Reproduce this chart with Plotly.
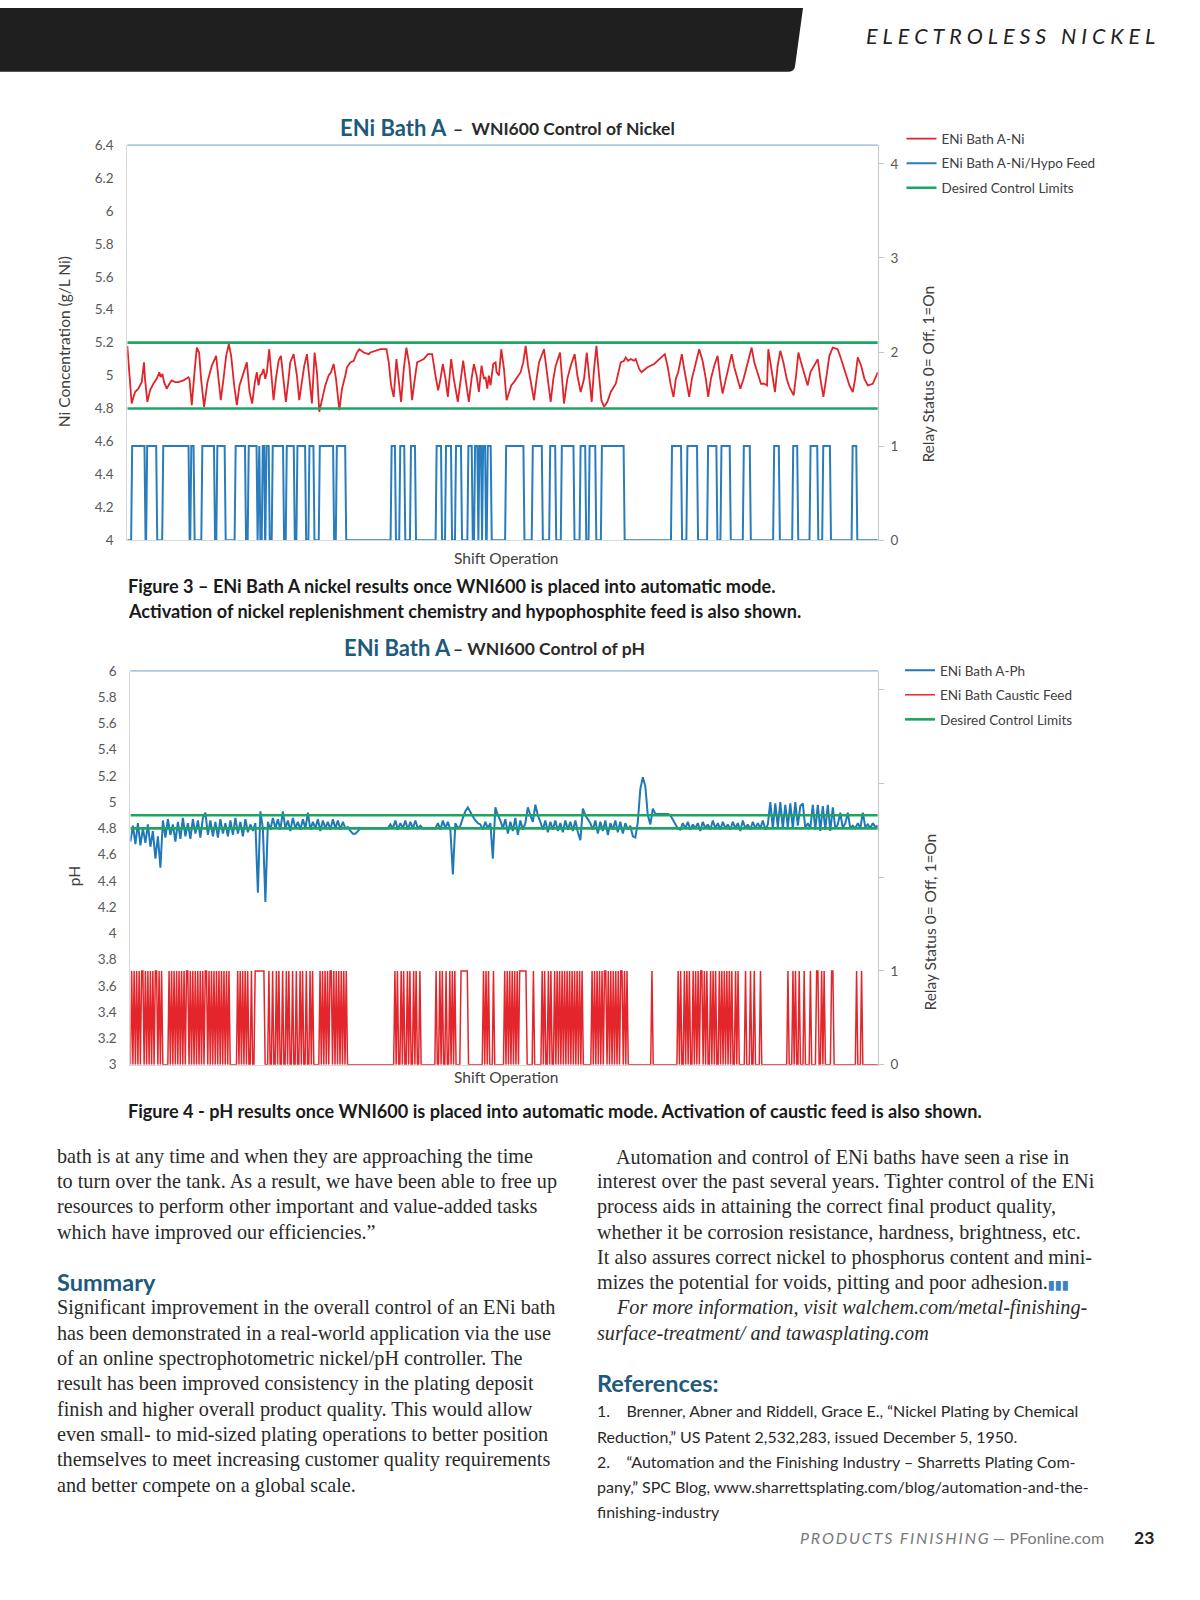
import numpy as np
import plotly.graph_objects as go

W, H = 1200, 1600
SANS = "Lato"
SERIF = "Liberation Serif"
TEAL = "#1d5a7c"
TXT = "#2a2a2a"
GREY = "#595959"

# ---------------- Figure 3 data (x = % of shift) ----------------
ni_x = [0.00, 0.58, 1.03, 1.47, 1.92, 2.23, 2.36, 2.67, 3.03, 3.47, 3.92, 4.27, 4.45, 4.68, 4.90, 5.25, 5.61, 5.92, 6.37, 6.81,
        7.48, 8.14, 8.28, 8.59, 9.03, 9.26, 9.57, 9.83, 10.23, 10.68, 11.26, 11.84, 12.15, 12.46, 12.82, 13.17, 13.53, 13.84, 14.24, 14.60,
        14.95, 15.49, 15.93, 16.29, 16.64, 17.00, 17.26, 17.49, 17.71, 17.93, 18.15, 18.38, 18.60, 18.91, 19.18, 19.49, 19.80, 20.16, 20.47, 20.82,
        21.13, 21.49, 21.71, 22.16, 22.60, 22.91, 23.27, 23.58, 23.94, 24.25, 24.60, 24.96, 25.27, 25.58, 25.94, 26.38, 26.83, 27.14, 27.49, 27.81,
        28.25, 28.61, 29.05, 29.27, 29.72, 30.17, 30.61, 30.92, 31.50, 32.17,
        32.39, 33.06, 33.72, 34.53, 34.84, 35.15, 35.50, 35.86, 36.17, 36.48, 36.84, 37.19, 37.59, 37.95, 38.31, 38.62, 39.06, 39.51, 40.04, 40.62,
        41.06, 41.42, 41.73, 42.04, 42.40, 42.71, 43.15, 43.51, 44.04, 44.40, 44.76, 45.07, 45.51, 45.87, 46.18, 46.54, 46.85, 47.20, 47.52, 47.74,
        47.96, 48.18, 48.40, 48.76, 49.07, 49.21, 49.52, 49.83, 50.19, 50.54, 50.85, 51.16, 51.52, 51.83, 52.05, 52.41, 52.76, 53.08, 53.39, 53.74,
        54.19, 54.54, 54.86, 55.52, 55.97, 56.41, 56.77, 57.08, 57.66, 57.97, 58.19, 58.63, 59.08, 59.61, 59.97, 60.41, 60.86, 61.22, 61.53, 61.88,
        62.19, 62.51, 62.86, 63.17, 63.53, 63.97, 64.42, 65.09,
        65.75, 66.19, 66.42, 66.73, 67.08, 67.53, 67.75, 68.20, 68.51, 69.31, 70.20, 71.09, 71.62, 71.98, 72.42, 72.78, 73.09, 73.40, 73.89, 74.20,
        74.56, 74.87, 75.23, 75.76, 76.20, 76.65, 77.09, 77.40, 77.76, 78.21, 78.65, 79.01, 79.32, 79.76, 80.21, 80.52, 80.88, 81.32, 81.68, 82.12,
        82.65, 83.19, 83.54, 83.99, 84.43, 84.88, 85.24, 85.41, 85.68, 85.99, 86.30, 86.66, 87.01, 87.42, 87.86, 88.22, 88.79, 89.11, 89.42, 89.77,
        90.22, 90.66, 91.02, 91.46, 92.00, 92.35, 92.75, 93.11, 93.55, 94.00, 94.66, 95.11, 95.64, 96.22, 96.67, 96.98, 97.33, 97.78, 98.22, 98.67,
        99.33, 99.65, 100.0]
ni_val = [5.18, 4.83, 4.90, 4.92, 4.96, 5.08, 4.98, 4.84, 4.91, 4.95, 4.98, 5.02, 4.99, 5.01, 4.96, 4.92, 4.95, 4.97, 4.96, 4.96,
          4.97, 4.99, 4.98, 4.82, 5.06, 5.17, 5.14, 4.98, 4.81, 4.96, 5.06, 5.12, 4.98, 4.85, 4.98, 5.12, 5.19, 5.12, 4.94, 4.82,
          4.94, 5.02, 5.08, 4.90, 4.83, 4.96, 5.02, 4.94, 5.00, 5.01, 5.04, 4.98, 5.02, 5.16, 5.02, 4.85, 4.98, 5.09, 5.12, 4.96,
          4.84, 4.98, 5.08, 5.13, 5.00, 4.85, 4.98, 5.06, 5.13, 5.00, 4.83, 5.14, 5.02, 4.78, 4.85, 4.94, 5.00, 5.02, 5.07, 4.98,
          4.79, 4.92, 5.00, 5.05, 5.08, 5.09, 5.14, 5.16, 5.14, 5.13,
          5.14, 5.15, 5.16, 5.16, 5.08, 4.94, 4.87, 5.10, 4.98, 4.84, 5.04, 5.17, 5.06, 4.85, 4.98, 5.08, 5.09, 5.10, 5.13, 5.13,
          5.00, 4.91, 4.98, 5.07, 4.98, 4.87, 5.10, 4.98, 4.84, 4.98, 5.09, 4.98, 4.84, 4.98, 5.07, 5.00, 4.90, 5.06, 4.98, 4.99,
          4.92, 5.00, 4.94, 5.07, 5.08, 5.02, 5.00, 5.16, 5.04, 4.85, 4.89, 4.94, 4.96, 4.98, 4.99, 5.02, 5.08, 5.18, 5.06, 4.96,
          4.85, 4.98, 5.08, 5.16, 5.00, 4.84, 4.98, 5.06, 5.14, 4.98, 4.83, 4.98, 5.06, 5.13, 5.00, 4.90, 4.98, 5.14, 4.98, 4.84,
          5.04, 5.18, 5.00, 4.85, 4.81, 4.84, 4.90, 4.95,
          5.08, 5.09, 5.11, 5.09, 5.10, 5.09, 5.10, 5.04, 5.02, 5.05, 5.07, 5.11, 5.13, 5.06, 4.94, 4.87, 4.98, 5.02, 5.13, 5.04,
          4.94, 4.87, 4.98, 5.08, 5.16, 5.09, 4.98, 4.87, 4.98, 5.06, 5.12, 4.98, 4.89, 4.98, 5.06, 5.13, 5.05, 4.98, 4.92, 4.98,
          5.08, 5.17, 5.08, 5.02, 4.95, 4.95, 4.94, 5.16, 5.08, 4.98, 4.90, 5.06, 5.15, 5.08, 4.98, 4.93, 4.88, 5.00, 5.14, 5.08,
          5.00, 4.94, 5.02, 5.06, 5.10, 4.98, 4.87, 4.98, 5.12, 5.17, 5.16, 5.10, 5.02, 4.94, 4.90, 4.98, 5.11, 5.06, 4.98, 4.94,
          4.95, 4.98, 5.02]
# Ni/Hypo feed relay ON periods (start %, end %)
hypo_on = [(0.58, 2.36), (2.58, 3.92), (4.72, 8.23), (8.46, 8.90), (9.93, 11.62), (11.93, 13.04), (14.37, 15.75),
           (16.11, 17.29), (17.44, 17.66), (17.98, 18.29), (18.47, 18.91), (19.31, 20.82), (21.18, 22.25), (22.60, 23.76),
           (24.20, 24.87), (25.58, 27.49), (27.85, 29.10), (35.15, 35.73), (36.30, 36.97), (37.73, 38.40), (41.15, 41.87),
           (42.40, 43.20), (43.73, 44.53), (45.38, 45.96), (46.27, 46.71), (46.85, 47.20), (47.34, 47.74), (47.96, 48.49),
           (50.41, 52.85), (53.96, 55.30), (56.28, 57.08), (57.83, 59.52), (60.33, 61.08), (61.53, 62.42), (63.17, 66.20),
           (72.51, 73.85), (74.56, 75.98), (77.32, 78.56), (79.10, 80.34), (82.08, 83.01), (86.12, 86.88), (88.66, 89.33),
           (90.97, 92.00), (92.66, 93.69), (96.58, 97.20)]
ni_limits = [4.8, 5.2]
ni_ticks = [4.0, 4.2, 4.4, 4.6, 4.8, 5.0, 5.2, 5.4, 5.6, 5.8, 6.0, 6.2, 6.4]
ni_ticktext = ["4", "4.2", "4.4", "4.6", "4.8", "5", "5.2", "5.4", "5.6", "5.8", "6", "6.2", "6.4"]
relay_ticks = [0, 1, 2, 3, 4]
relay1_ticktext = ["0", "1", "2", "3", "4"]
relay2_ticktext = ["0", "1", "", "", ""]

# ---------------- Figure 4 data ----------------
ph_val = [4.70, 4.82, 4.68, 4.84, 4.67, 4.80, 4.69, 4.83, 4.66, 4.78,
          4.57, 4.74, 4.50, 4.86, 4.73, 4.87, 4.75, 4.83, 4.70, 4.85,
          4.72, 4.88, 4.74, 4.84, 4.72, 4.87, 4.76, 4.86, 4.73, 4.88,
          4.92, 4.75, 4.86, 4.74, 4.85, 4.73, 4.87, 4.76, 4.84, 4.74,
          4.86, 4.75, 4.88, 4.76, 4.85, 4.74, 4.87, 4.77, 4.83, 4.78,
          4.84, 4.31, 4.93, 4.80, 4.24, 4.85, 4.79, 4.88, 4.80, 4.87,
          4.79, 4.93, 4.80, 4.86, 4.78, 4.88, 4.80, 4.85, 4.79, 4.87,
          4.80, 4.92, 4.79, 4.85, 4.80, 4.87, 4.78, 4.86, 4.80, 4.85,
          4.79, 4.87, 4.80, 4.86, 4.79, 4.85, 4.80, 4.81, 4.78, 4.76,
          4.76, 4.78, 4.80, 4.80, 4.80, 4.80, 4.80, 4.80, 4.80, 4.80,
          4.80, 4.80, 4.80, 4.80, 4.83, 4.80, 4.86, 4.79, 4.84, 4.80,
          4.86, 4.79, 4.85, 4.80, 4.86, 4.80, 4.82, 4.80, 4.80, 4.80,
          4.80, 4.80, 4.80, 4.84, 4.79, 4.86, 4.80, 4.85, 4.79, 4.45,
          4.84, 4.80, 4.82, 4.88, 4.93, 4.96, 4.92, 4.89, 4.86, 4.84,
          4.83, 4.79, 4.85, 4.80, 4.84, 4.57, 4.96, 4.90, 4.86, 4.80,
          4.87, 4.76, 4.85, 4.78, 4.88, 4.75, 4.86, 4.79, 4.84, 4.96,
          4.90, 4.85, 4.98, 4.90, 4.85, 4.79, 4.86, 4.77, 4.85, 4.79,
          4.86, 4.78, 4.84, 4.77, 4.86, 4.79, 4.85, 4.78, 4.86, 4.77,
          4.71, 4.95, 4.90, 4.87, 4.84, 4.79, 4.86, 4.76, 4.85, 4.78,
          4.86, 4.75, 4.84, 4.79, 4.86, 4.77, 4.85, 4.76, 4.84, 4.79,
          4.82, 4.74, 4.73, 4.85, 5.10, 5.19, 5.12, 4.90, 4.83, 4.95,
          4.91, 4.91, 4.91, 4.91, 4.91, 4.91, 4.90, 4.87, 4.83, 4.80,
          4.79, 4.84, 4.80, 4.85, 4.79, 4.83, 4.80, 4.84, 4.78, 4.85,
          4.80, 4.83, 4.79, 4.86, 4.80, 4.84, 4.79, 4.85, 4.80, 4.83,
          4.79, 4.85, 4.80, 4.84, 4.78, 4.86, 4.80, 4.83, 4.79, 4.85,
          4.80, 4.84, 4.80, 4.86, 4.79, 4.83, 5.00, 4.80, 4.99, 4.81,
          5.00, 4.80, 4.98, 4.81, 4.99, 4.80, 5.00, 4.82, 4.97, 4.99,
          4.80, 4.84, 4.80, 4.98, 4.79, 4.98, 4.78, 4.97, 4.79, 4.98,
          4.78, 4.96, 4.80, 4.83, 4.92, 4.80, 4.84, 4.92, 4.80, 4.82,
          4.80, 4.84, 4.80, 4.92, 4.81, 4.83, 4.80, 4.84, 4.81, 4.82]
# Caustic feed relay: 600 samples over the shift, OFF except in these blocks (start sample, states)
N_CAUSTIC = 600
caustic_blocks = [
    (1, "1010101011010101010110101"),
    (31, "10101010101010110101010101010110101010101010101010"),
    (86, "10101010100100111111110"),
    (111, "1001001010010010100100100101001001010"),
    (152, "1010101011010101010101"),
    (212, "101001010010100101001"),
    (245, "100101001001010100001111110"),
    (283, "101010001"),
    (300, "1010101010101111110"),
    (323, "1"),
    (330, "101001010010101010101010101010101"),
    (370, "101010101011010101010101101010"),
    (418, "1"),
    (439, "1010010101001010101101010010101001010101010100101"),
    (493, "1000100100001"),
    (527, "10001010010001"),
    (545, "1000011001010000011"),
    (582, "10001"),
]
ph_limits = [4.8, 4.9]
ph_ticks = [3.0, 3.2, 3.4, 3.6, 3.8, 4.0, 4.2, 4.4, 4.6, 4.8, 5.0, 5.2, 5.4, 5.6, 5.8, 6.0]
ph_ticktext = ["3", "3.2", "3.4", "3.6", "3.8", "4", "4.2", "4.4", "4.6", "4.8", "5", "5.2", "5.4", "5.6", "5.8", "6"]

# ---------------- build series ----------------
hx, hy = [0.0], [0.0]
for a, b in hypo_on:
    hx += [a - 0.07, a + 0.07, b - 0.07, b + 0.07]
    hy += [0, 1, 1, 0]
hx.append(100.0)
hy.append(0)

caustic = np.zeros(N_CAUSTIC)
for start, states in caustic_blocks:
    for k, ch in enumerate(states):
        if start + k < N_CAUSTIC:
            caustic[start + k] = int(ch)
caustic_x = np.arange(N_CAUSTIC) * 100.0 / (N_CAUSTIC - 1)
ph_x = np.arange(len(ph_val)) * 100.0 / (len(ph_val) - 1)


def px(x):
    return x / W


def py(y):
    return 1 - y / H


fig = go.Figure()
# Figure 3 traces
fig.add_trace(go.Scatter(x=ni_x, y=ni_val, xaxis="x", yaxis="y", mode="lines", name="ENi Bath A-Ni",
                         line=dict(color="#e0242a", width=1.8), legend="legend", legendgroup="a1"))
fig.add_trace(go.Scatter(x=hx, y=hy, xaxis="x", yaxis="y2", mode="lines", name="ENi Bath A-Ni/Hypo Feed",
                         line=dict(color="#2a7dbd", width=2), legend="legend", legendgroup="a2"))
fig.add_trace(go.Scatter(x=[0, 100, None, 0, 100], y=[ni_limits[1], ni_limits[1], None, ni_limits[0], ni_limits[0]],
                         xaxis="x", yaxis="y", mode="lines", name="Desired Control Limits",
                         line=dict(color="#1fa463", width=2.6), legend="legend", legendgroup="a3"))
# Figure 4 traces
fig.add_trace(go.Scatter(x=ph_x, y=ph_val, xaxis="x2", yaxis="y3", mode="lines", name="ENi Bath A-Ph",
                         line=dict(color="#1f78b8", width=2), legend="legend2", legendgroup="b1"))
fig.add_trace(go.Scatter(x=caustic_x, y=caustic, xaxis="x2", yaxis="y4", mode="lines", name="ENi Bath Caustic Feed",
                         line=dict(color="#e3262b", width=1.5), legend="legend2", legendgroup="b2"))
fig.add_trace(go.Scatter(x=[0, 100, None, 0, 100], y=[ph_limits[1], ph_limits[1], None, ph_limits[0], ph_limits[0]],
                         xaxis="x2", yaxis="y3", mode="lines", name="Desired Control Limits",
                         line=dict(color="#1fa463", width=2.6), legend="legend2", legendgroup="b3"))

xcommon = dict(range=[0, 100], showticklabels=False, ticks="", showgrid=False, zeroline=False,
               showline=True, linecolor="#d9d9d9", linewidth=1)
ycommon = dict(ticks="", showgrid=False, zeroline=False, showline=True, linecolor="#d9d9d9", linewidth=1,
               tickfont=dict(family=SANS, size=13.5, color=GREY), ticklabelstandoff=10)
rcommon = dict(side="right", showgrid=False, zeroline=False, showline=True, linecolor="#c4c4c4", linewidth=1,
               ticks="outside", ticklen=5, tickcolor="#c4c4c4", tickvals=relay_ticks,
               tickfont=dict(family=SANS, size=13.5, color=GREY), ticklabelstandoff=4)

fig.update_layout(
    width=W, height=H, margin=dict(l=0, r=0, t=0, b=0),
    paper_bgcolor="white", plot_bgcolor="white", showlegend=True,
    xaxis=dict(domain=[px(127.3), px(877.8)], anchor="y", **xcommon),
    yaxis=dict(domain=[py(537.5), py(138.5)], range=[4, 6.4], tickvals=ni_ticks, ticktext=ni_ticktext, anchor="x", **ycommon),
    yaxis2=dict(overlaying="y", anchor="x", range=[0, 4.2], ticktext=relay1_ticktext, **rcommon),
    xaxis2=dict(domain=[px(130.4), px(877.8)], anchor="y3", **xcommon),
    yaxis3=dict(domain=[py(1067.4), py(669.5)], range=[3, 6], tickvals=ph_ticks, ticktext=ph_ticktext, anchor="x2", **ycommon),
    yaxis4=dict(overlaying="y3", anchor="x2", range=[0, 4.2], ticktext=relay2_ticktext, **rcommon),
    legend=dict(x=px(901.5), y=py(116.5), xanchor="left", yanchor="top", bgcolor="rgba(0,0,0,0)",
                font=dict(family=SANS, size=13.5, color="#404040"), itemwidth=30, tracegroupgap=4,
                traceorder="grouped"),
    legend2=dict(x=px(900), y=py(653.5), xanchor="left", yanchor="top", bgcolor="rgba(0,0,0,0)",
                 font=dict(family=SANS, size=13.5, color="#404040"), itemwidth=30, tracegroupgap=4,
                 traceorder="grouped"),
)

shapes = []
# header bar
shapes.append(dict(type="path", xref="paper", yref="paper",
                   path=f"M 0,1 L {px(803)},1 L {px(795)},{py(59)} Q {px(794)},{py(64.5)} {px(788)},{py(64.5)} L 0,{py(64.5)} Z",
                   fillcolor="#1f1f1f", line=dict(width=0)))
# top frame lines of the plots
for xa, ya in (("x", "y"), ("x2", "y3")):
    shapes.append(dict(type="line", xref=f"{xa} domain", yref=f"{ya} domain", x0=0, x1=1, y0=1, y1=1,
                       line=dict(color="#8db3d8", width=1.2)))
fig.update_layout(shapes=shapes)

ann = []


def txt(x, y, text, size, color=TXT, family=SANS, xanchor="left", angle=0):
    ann.append(dict(x=px(x), y=py(y), xref="paper", yref="paper", text=text, showarrow=False,
                    xanchor=xanchor, yanchor="middle", textangle=angle,
                    font=dict(family=family, size=size, color=color)))


SP = "\u2005"
# header / footer
txt(1010, 28, "<i>" + SP.join("ELECTROLESS") + "\u2002\u2005" + SP.join("NICKEL") + "</i>", 21.5, "#222222", SANS, "center")
txt(1106, 1545, "<i>" + "\u2009".join("PRODUCTS") + "\u2002" + "\u2009".join("FINISHING") + "</i> \u2014 PFonline.com",
    16, "#7a7a7a", SANS, "right")
txt(1156, 1545, "<b>23</b>", 17.5, "#222222", SANS, "right")

# chart titles
txt(337.7, 121, "<b>ENi Bath A</b>", 22, TEAL)
txt(451, 122, "<b>\u2013  WNI600 Control of Nickel</b>", 17.5, "#2a2a2a")
txt(341.7, 646, "<b>ENi Bath A</b>", 22, TEAL)
txt(451, 647, "<b>\u2013 WNI600 Control of pH</b>", 17.5, "#2a2a2a")

# axis titles
txt(64, 337.5, "Ni Concentration (g/L Ni)", 15.5, "#404040", SANS, "center", -90)
txt(927.8, 369.5, "Relay Status 0= Off, 1=On", 15.5, "#404040", SANS, "center", -90)
txt(506, 556, "Shift Operation", 15.5, "#404040", SANS, "center")
txt(74.2, 876.7, "pH", 15.5, "#404040", SANS, "center", -90)
txt(929.8, 923, "Relay Status 0= Off, 1=On", 15.5, "#404040", SANS, "center", -90)
txt(506, 1080, "Shift Operation", 15.5, "#404040", SANS, "center")

# captions
CAP = 18.1
txt(126, 584, "<b>Figure 3 \u2013 ENi Bath A nickel results once WNI600 is placed into automatic mode.</b>", CAP, "#1a1a1a")
txt(126, 608.6, "<b>Activation of nickel replenishment chemistry and hypophosphite feed is also shown.</b>", CAP, "#1a1a1a")
txt(126, 1114, "<b>Figure 4 - pH results once WNI600 is placed into automatic mode. Activation of caustic feed is also shown.</b>", CAP, "#1a1a1a")

BODY = 20.2
LX = 55
RX = 595
# body text - left column
left_p1 = ["bath is at any time and when they are approaching the time",
           "to turn over the tank. As a result, we have been able to free up",
           "resources to perform other important and value-added tasks",
           "which have improved our efficiencies.\u201d"]
for i, line in enumerate(left_p1):
    txt(LX, 1160.2 + i * 25.4, line, BODY, TXT, SERIF)
txt(LX, 1287, "<b>Summary</b>", 23.5, TEAL)
left_p2 = ["Significant improvement in the overall control of an ENi bath",
           "has been demonstrated in a real-world application via the use",
           "of an online spectrophotometric nickel/pH controller. The",
           "result has been improved consistency in the plating deposit",
           "finish and higher overall product quality. This would allow",
           "even small- to mid-sized plating operations to better position",
           "themselves to meet increasing customer quality requirements",
           "and better compete on a global scale."]
for i, line in enumerate(left_p2):
    txt(LX, 1312.8 + i * 25.63, line, BODY, TXT, SERIF)

# body text - right column
right_p1 = ["Automation and control of ENi baths have seen a rise in",
            "interest over the past several years. Tighter control of the ENi",
            "process aids in attaining the correct final product quality,",
            "whether it be corrosion resistance, hardness, brightness, etc.",
            "It also assures correct nickel to phosphorus content and mini-",
            "mizes the potential for voids, pitting and poor adhesion."
            "<span style='color:#3d82c4;font-size:12px'><b>\u25ae\u25ae\u25ae</b></span>"]
for i, line in enumerate(right_p1):
    txt(RX + 19.4 if i == 0 else RX, 1160.2 + i * 25.4, line, BODY, TXT, SERIF)
txt(RX + 19.4, 1312.8, "<i>For more information, visit walchem.com/metal-finishing-</i>", BODY, TXT, SERIF)
txt(RX, 1338.6, "<i>surface-treatment/ and tawasplating.com</i>", BODY, TXT, SERIF)
txt(RX, 1389, "<b>References:</b>", 23.5, TEAL)
refs = ["1.\u00a0\u00a0\u00a0 Brenner, Abner and Riddell, Grace E., \u201cNickel Plating by Chemical",
        "Reduction,\u201d US Patent 2,532,283, issued December 5, 1950.",
        "2.\u00a0\u00a0\u00a0 \u201cAutomation and the Finishing Industry \u2013 Sharretts Plating Com-",
        "pany,\u201d SPC Blog, www.sharrettsplating.com/blog/automation-and-the-",
        "finishing-industry"]
for i, line in enumerate(refs):
    txt(RX, 1417 + i * 25.5, line, 16, TXT, SANS)

fig.update_layout(annotations=ann)
fig.write_html("out.html", config={"displayModeBar": False},
               post_script="document.body.style.margin='0';")
